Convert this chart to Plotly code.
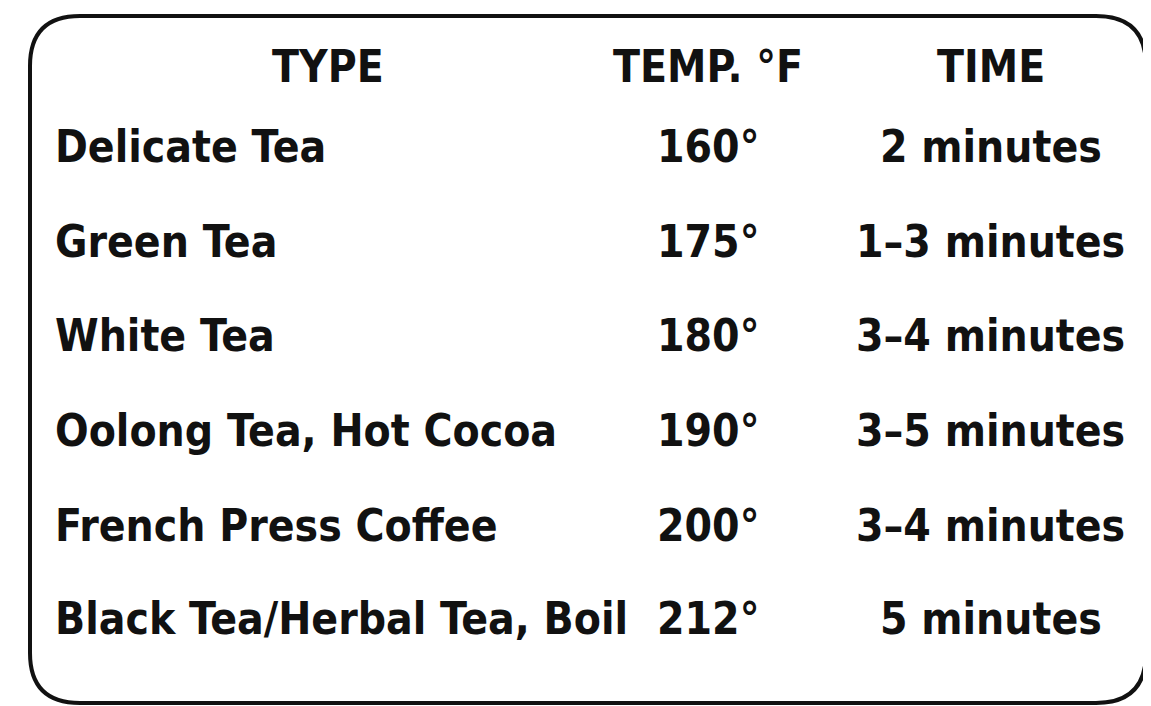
import plotly.graph_objects as go

headers = ["TYPE", "TEMP. °F", "TIME"]
types = ["Delicate Tea", "Green Tea", "White Tea", "Oolong Tea, Hot Cocoa", "French Press Coffee", "Black Tea/Herbal Tea, Boil"]
temps = ["160°", "175°", "180°", "190°", "200°", "212°"]
times = ["2 minutes", "1–3 minutes", "3–4 minutes", "3–5 minutes", "3–4 minutes", "5 minutes"]

W, H = 1151, 706
FONT = "DejaVu Sans Condensed, Liberation Sans Narrow, sans-serif"
fig = go.Figure()
row_y = [138, 233, 327, 422, 517, 610]
ann = []
hx = [320, 700, 983]
def px(x): return x / W
def py(y): return 1 - y / H
for h, x in zip(headers, hx):
    ann.append(dict(x=px(x), y=py(58), text=f"<b>{h}</b>", xanchor="center"))
for i, y in enumerate(row_y):
    ann.append(dict(x=px(45), y=py(y), text=f"<b>{types[i]}</b>", xanchor="left"))
    ann.append(dict(x=px(700), y=py(y), text=f"<b>{temps[i]}</b>", xanchor="center"))
    ann.append(dict(x=px(983), y=py(y), text=f"<b>{times[i]}</b>", xanchor="center"))
for a in ann:
    a.update(xref="paper", yref="paper", yanchor="middle", showarrow=False,
             font=dict(family=FONT, size=44, color="#111"))

x0, x1, y0, y1, r = px(22), px(1138), py(8), py(695), 50
rx, ry = r / W, r / H
path = (f"M {x0+rx},{y0} L {x1-rx},{y0} Q {x1},{y0} {x1},{y0-ry} L {x1},{y1+ry} "
        f"Q {x1},{y1} {x1-rx},{y1} L {x0+rx},{y1} Q {x0},{y1} {x0},{y1+ry} "
        f"L {x0},{y0-ry} Q {x0},{y0} {x0+rx},{y0} Z")
fig.update_layout(
    width=W, height=H, margin=dict(l=0, r=0, t=0, b=0),
    plot_bgcolor="white", paper_bgcolor="white",
    xaxis=dict(visible=False, fixedrange=True),
    yaxis=dict(visible=False, fixedrange=True),
    annotations=ann,
    shapes=[dict(type="path", path=path, xref="paper", yref="paper", line=dict(color="#111", width=4))],
    showlegend=False,
)
fig.write_html("out.html")
